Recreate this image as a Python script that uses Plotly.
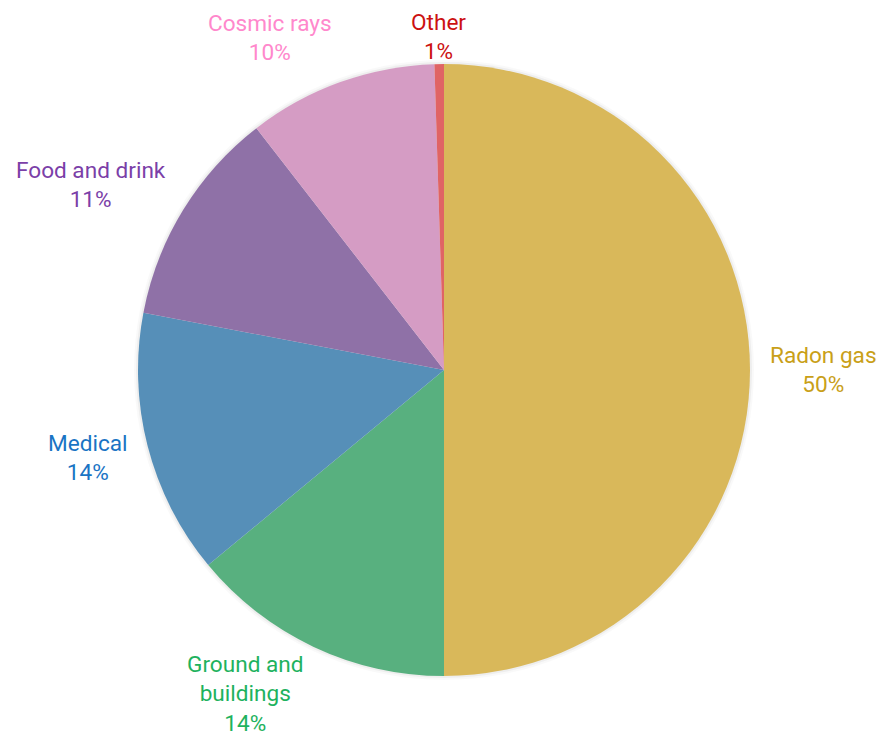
import math
import plotly.graph_objects as go

labels = ["Radon gas", "Ground and<br>buildings", "Medical", "Food and drink", "Cosmic rays", "Other"]
values = [50, 14, 14, 11.5, 10, 0.5]
pct_text = ["50%", "14%", "14%", "11%", "10%", "1%"]
slice_colors = ["#d9b85a", "#58b07f", "#568fb8", "#8f71a7", "#d59cc4", "#e06464"]
label_colors = ["#c9a018", "#1eb25e", "#1a74c4", "#7b3fa8", "#ff88cc", "#cc1111"]

W, H = 885, 736
OFF = 8  # page body margin
cx, cy, r = 444 - OFF, 370 - OFF, 306
FS = 22.6
LINE_H = FS * 1.3
GAP = 18

fig = go.Figure(go.Pie(
    labels=labels,
    values=values,
    text=pct_text,
    textinfo="none",
    sort=False,
    direction="clockwise",
    rotation=0,
    marker=dict(colors=slice_colors, line=dict(width=0)),
    showlegend=False,
    hoverinfo="label+text",
    domain=dict(x=[(cx - r) / W, (cx + r) / W], y=[(H - cy - r) / H, (H - cy + r) / H]),
))

# soft halo around the pie
for extra, alpha in [(4, 0.025), (2, 0.045)]:
    rr = r + extra
    fig.add_shape(type="circle", xref="paper", yref="paper", layer="below",
                  x0=(cx - rr) / W, x1=(cx + rr) / W,
                  y0=(H - cy - rr) / H, y1=(H - cy + rr) / H,
                  fillcolor=f"rgba(0,0,0,{alpha})", line=dict(width=0))

# outside labels placed along each slice's mid-angle
total = sum(values)
cum = 0.0
for lab, val, pct, col in zip(labels, values, pct_text, label_colors):
    mid = (cum + val / 2) / total * 2 * math.pi
    cum += val
    dx, dy = math.sin(mid), -math.cos(mid)  # dy positive = downward
    px = cx + (r + GAP) * dx
    py = cy + (r + GAP) * dy
    nlines = lab.count("<br>") + 2
    h = nlines * LINE_H
    ccy = py + dy * h / 2
    ccy = min(max(ccy, h / 2), H - OFF - h / 2 + 2)
    if dx < -0.1:
        xa = "right"
    elif dx > 0.1:
        xa = "left"
    else:
        xa = "center"
    fig.add_annotation(
        x=px / W, y=1 - ccy / H, xref="paper", yref="paper",
        text=f"{lab}<br>{pct}", showarrow=False,
        xanchor=xa, yanchor="middle", align="center",
        font=dict(family="Roboto", size=FS, color=col),
    )

fig.update_layout(
    width=W, height=H,
    margin=dict(l=0, r=0, t=0, b=0),
    paper_bgcolor="white",
    plot_bgcolor="white",
    font=dict(family="Roboto"),
)
fig.write_html("out.html")
